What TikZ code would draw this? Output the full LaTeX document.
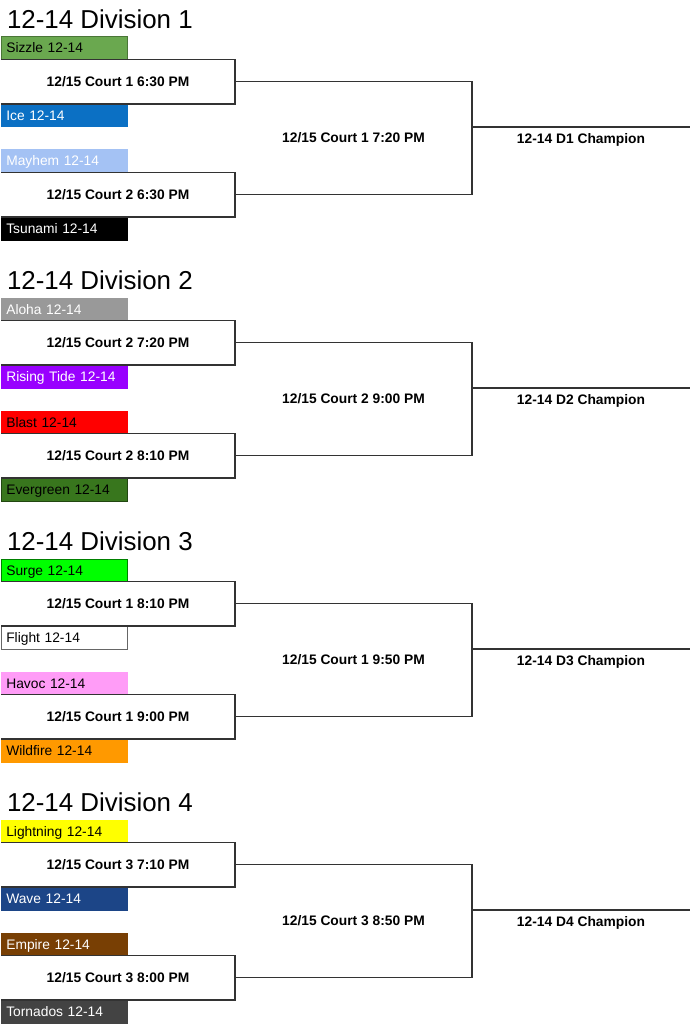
\documentclass[tikz,border=0pt]{standalone}
\usepackage{fontspec}
\setmainfont{Liberation Sans}
\definecolor{lineg}{HTML}{333333}
\definecolor{cSizzle}{HTML}{6AA84F}
\definecolor{cIce}{HTML}{0B70C4}
\definecolor{cMayhem}{HTML}{A4C2F4}
\definecolor{cTsunami}{HTML}{000000}
\definecolor{cAloha}{HTML}{999999}
\definecolor{cRising}{HTML}{9900FF}
\definecolor{cBlast}{HTML}{FF0000}
\definecolor{cEvergreen}{HTML}{38761D}
\definecolor{cSurge}{HTML}{00FF00}
\definecolor{cFlight}{HTML}{FFFFFF}
\definecolor{cHavoc}{HTML}{FF9CF7}
\definecolor{cWildfire}{HTML}{FF9900}
\definecolor{cLightning}{HTML}{FFFF00}
\definecolor{cWave}{HTML}{1C4587}
\definecolor{cEmpire}{HTML}{783F04}
\definecolor{cTornados}{HTML}{434343}
\tikzset{
  bline/.style={draw=lineg, line width=1.2pt},
  title/.style={anchor=base west, inner sep=0pt, font=\fontsize{25.9}{30}\selectfont},
  team/.style={anchor=north west, minimum width=126pt, minimum height=22.5pt,
    text width=116pt, align=left, inner xsep=5pt, inner ysep=0pt,
    text height=9.9pt, text depth=0pt, font=\fontsize{13.8}{16}\selectfont, line width=0.6pt},
  mlabel/.style={inner sep=0pt, text height=9.9pt, text depth=0pt,
    font=\bfseries\fontsize{13.8}{16}\selectfont},
  team Sizzle/.style={fill=cSizzle, draw=cSizzle!70!black, text=black},
  team Ice/.style={fill=cIce, draw=cIce, text=white},
  team Mayhem/.style={fill=cMayhem, draw=cMayhem, text=white},
  team Tsunami/.style={fill=cTsunami, draw=cTsunami, text=white},
  team Aloha/.style={fill=cAloha, draw=cAloha, text=white},
  team Rising Tide/.style={fill=cRising, draw=cRising, text=white},
  team Blast/.style={fill=cBlast, draw=cBlast, text=black},
  team Evergreen/.style={fill=cEvergreen, draw=cEvergreen!60!black, text=black},
  team Surge/.style={fill=cSurge, draw=cSurge!50!black, text=black},
  team Flight/.style={fill=cFlight, draw=black!60, text=black},
  team Havoc/.style={fill=cHavoc, draw=cHavoc, text=black},
  team Wildfire/.style={fill=cWildfire, draw=cWildfire, text=black},
  team Lightning/.style={fill=cLightning, draw=cLightning, text=black},
  team Wave/.style={fill=cWave, draw=cWave, text=white},
  team Empire/.style={fill=cEmpire, draw=cEmpire, text=white},
  team Tornados/.style={fill=cTornados, draw=cTornados, text=white},
}
\newcommand\bracketdiv[8]{%
\begin{scope}[shift={(0,{(#1-1)*261})}]
  \node[title] (h#1) at (6.8,28.3) {12-14 Division #1};
  \node[team, team #2] (ta#1) at (1,36.5) {#2 12-14};
  \node[team, team #3] (tb#1) at (1,104) {#3 12-14};
  \node[team, team #4] (tc#1) at (1,149.5) {#4 12-14};
  \node[team, team #5] (td#1) at (1,217) {#5 12-14};
  \coordinate (ma#1) at (235,81.5);
  \coordinate (mb#1) at (235,194.5);
  \coordinate (r#1) at (472,138);
  \coordinate (cs#1) at (472,127);
  \coordinate (ce#1) at (690,127);
  \draw[bline] (ta#1.south west) -| (ma#1) |- (tb#1.north west);
  \draw[bline] (tc#1.south west) -| (mb#1) |- (td#1.north west);
  \draw[bline] (ma#1) -| (r#1) |- (mb#1);
  \draw[bline] (cs#1) -- (ce#1);
  \node[mlabel] (la#1) at (118,82) {#6};
  \node[mlabel] (lb#1) at (118,194.5) {#7};
  \node[mlabel] (lr#1) at (353.5,138) {#8};
  \node[mlabel] (lc#1) at (581,139) {12-14 D#1 Champion};
\end{scope}}
\begin{document}
\begin{tikzpicture}[x=1pt,y=-1pt]
  \useasboundingbox (0,0) rectangle (690,1024);
  \bracketdiv{1}{Sizzle}{Ice}{Mayhem}{Tsunami}{12/15 Court 1 6:30 PM}{12/15 Court 2 6:30 PM}{12/15 Court 1 7:20 PM}
  \bracketdiv{2}{Aloha}{Rising Tide}{Blast}{Evergreen}{12/15 Court 2 7:20 PM}{12/15 Court 2 8:10 PM}{12/15 Court 2 9:00 PM}
  \bracketdiv{3}{Surge}{Flight}{Havoc}{Wildfire}{12/15 Court 1 8:10 PM}{12/15 Court 1 9:00 PM}{12/15 Court 1 9:50 PM}
  \bracketdiv{4}{Lightning}{Wave}{Empire}{Tornados}{12/15 Court 3 7:10 PM}{12/15 Court 3 8:00 PM}{12/15 Court 3 8:50 PM}
\end{tikzpicture}
\end{document}
